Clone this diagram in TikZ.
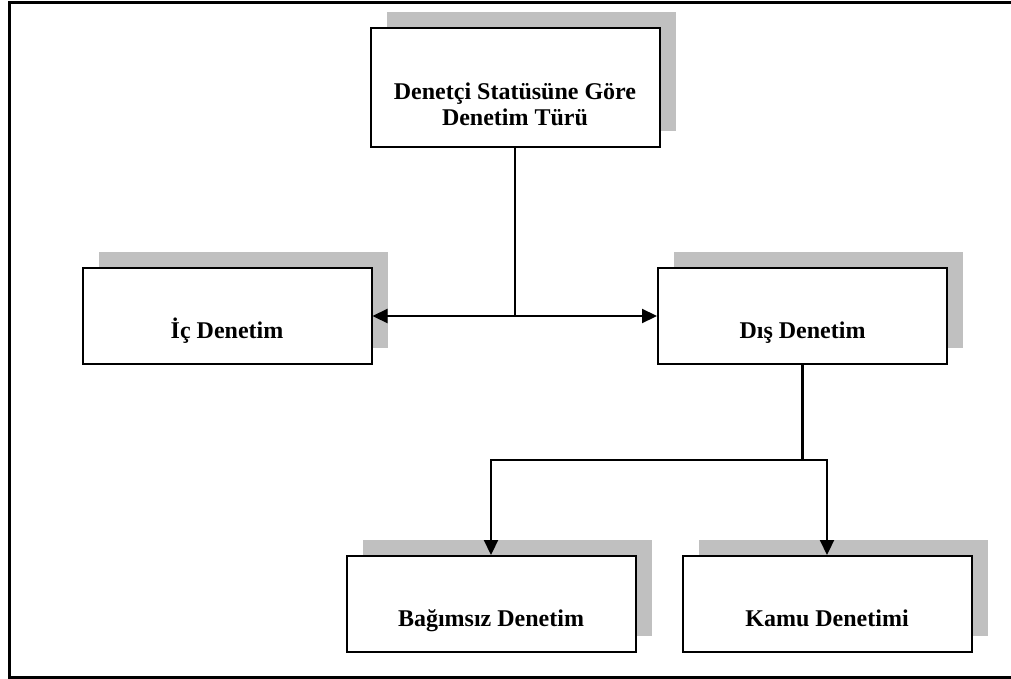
\documentclass[tikz,border=0pt]{standalone}
\usepackage{fontspec}
\setmainfont{Liberation Serif}
\usepackage{xcolor}
\usepackage{tikz}
\usetikzlibrary{arrows.meta,positioning,shadows}
\definecolor{ShadowGray}{HTML}{C0C0C0}
\definecolor{LineBlack} {HTML}{000000}
\tikzset{
  auditbox/.style={draw=LineBlack,fill=white,line width=2pt,
        minimum width=289pt,minimum height=96pt,inner sep=0pt,
        general shadow={fill=ShadowGray,shadow xshift=16pt,shadow yshift=16pt}},
  boxlabel/.style={font=\fontsize{24}{26}\selectfont\bfseries,
        inner sep=0pt,align=center,anchor=base},
  link/.style={draw=LineBlack,line width=2.2pt},
  arrowlink/.style={link,-{Triangle[length=15pt,width=14pt]}},
  twolink/.style={link,{Triangle[length=15pt,width=14pt]}-{Triangle[length=15pt,width=14pt]}}
}

\begin{document}
\begin{tikzpicture}[x=1pt,y=-1pt]
  \useasboundingbox (0,0) rectangle (1011,679);
  % outer frame
  \draw[LineBlack,line width=3pt] (1011,3) -- (9.5,3) -- (9.5,677) -- (1011,677);

  % boxes
  \node[auditbox,minimum height=119pt] (statu) at (515,87.5) {};
  \node[auditbox] (ic)       at (227,316)   {};
  \node[auditbox] (dis)      at (802.5,316) {};
  \node[auditbox] (bagimsiz) at (491,604)   {};
  \node[auditbox] (kamu)     at (827,604)   {};

  % labels, set low in the boxes
  \node[boxlabel] (statutext)    at ([yshift=-99pt]statu.north)    {Denetçi Statüsüne Göre\\Denetim Türü};
  \node[boxlabel] (ictext)       at ([yshift=-71pt]ic.north)       {İç Denetim};
  \node[boxlabel] (distext)      at ([yshift=-71pt]dis.north)      {Dış Denetim};
  \node[boxlabel] (bagimsiztext) at ([yshift=-71pt]bagimsiz.north) {Bağımsız Denetim};
  \node[boxlabel] (kamutext)     at ([yshift=-71pt]kamu.north)     {Kamu Denetimi};

  % connectors
  \draw[twolink] (ic.east) -- (dis.west);
  \draw[link] (statu.south) -- (statu.south |- ic.east);
  \coordinate (fork) at (dis.south |- 0,460);
  \draw[link] (dis.south) -- (fork);
  \draw[arrowlink] (fork) -| (bagimsiz.north);
  \draw[arrowlink] (fork) -| (kamu.north);
\end{tikzpicture}
\end{document}
